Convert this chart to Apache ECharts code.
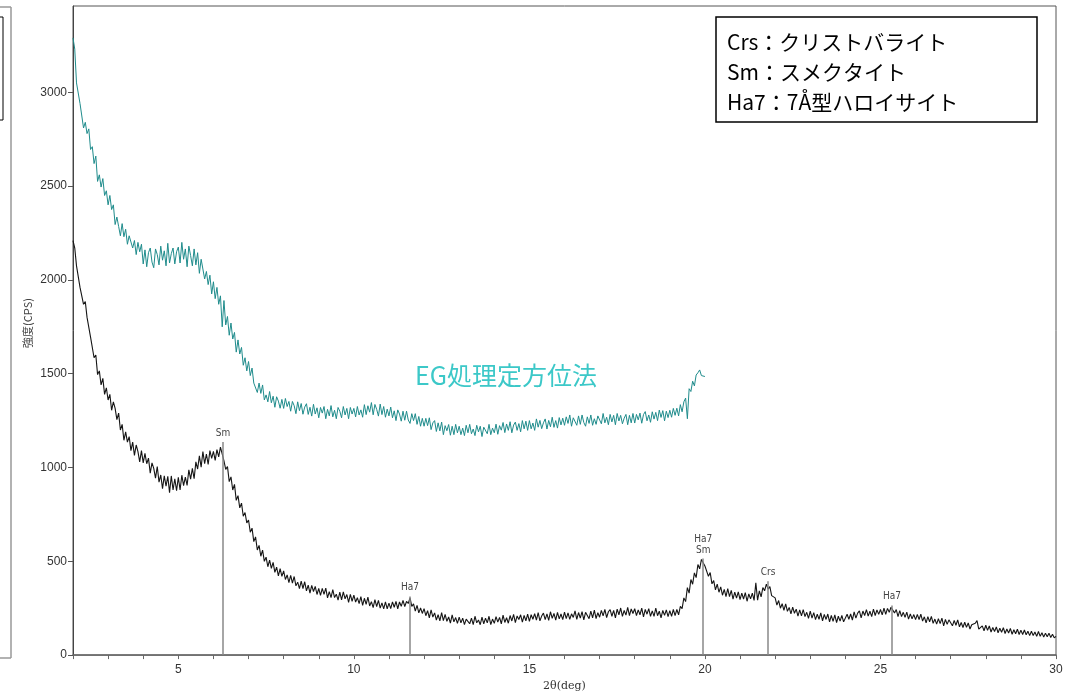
<!DOCTYPE html>
<html><head><meta charset="utf-8">
<script src="https://cdn.jsdelivr.net/npm/echarts@6/dist/echarts.min.js"></script>
<style>html,body{margin:0;padding:0;background:#fff}#c{width:1073px;height:697px}</style>
</head><body><div id="c"></div>
<script>
// 2θ sampling: start and step (deg)
const xStart = 2;
const xStep = 0.05;

// EG処理定方位法 (teal), 2.00 .. 20.00 deg
const tealY = [
3290,3230,3050,3050,2940,2935,2810,2840,2780,2805,2695,2710,2620,2660,2525,2560,2495,2540,2450,2475,
2400,2450,2375,2400,2295,2335,2285,2235,2300,2230,2270,2190,2235,2245,2170,2210,2135,2200,2150,2190,
2085,2160,2070,2145,2170,2095,2065,2165,2135,2080,2180,2105,2155,2075,2195,2090,2140,2170,2085,2150,
2175,2090,2200,2110,2165,2070,2180,2130,2075,2165,2080,2145,2035,2110,2110,2005,2045,1975,2025,1925,
1990,1900,1960,1870,1915,1750,1890,1760,1805,1705,1770,1685,1720,1615,1680,1605,1640,1545,1585,1515,
1565,1490,1530,1450,1460,1400,1450,1395,1440,1360,1387,1350,1405,1345,1380,1321,1377,1354,1316,1363,
1315,1368,1325,1352,1300,1352,1329,1287,1350,1303,1341,1284,1322,1340,1283,1321,1274,1337,1285,1318,
1265,1320,1290,1325,1260,1310,1275,1330,1270,1305,1260,1320,1300,1265,1325,1280,1315,1260,1320,1285,
1315,1270,1325,1280,1307,1268,1335,1282,1329,1295,1346,1281,1336,1310,1274,1338,1282,1325,1268,1311,
1275,1322,1265,1302,1250,1307,1285,1247,1300,1252,1300,1253,1235,1287,1250,1287,1230,1272,1220,1262,
1220,1262,1223,1265,1202,1238,1250,1192,1238,1195,1242,1175,1223,1196,1229,1172,1220,1175,1230,1185,
1220,1175,1210,1170,1225,1185,1230,1180,1205,1170,1225,1190,1220,1165,1215,1225,1180,1230,1175,1210,
1185,1231,1177,1223,1199,1240,1186,1232,1198,1244,1185,1226,1242,1198,1234,1190,1250,1206,1247,1198,
1250,1206,1237,1198,1259,1215,1251,1207,1238,1259,1205,1251,1217,1268,1214,1250,1210,1266,1227,1263,
1225,1270,1235,1280,1220,1265,1255,1225,1275,1230,1280,1240,1220,1270,1235,1280,1225,1260,1230,1275,
1273,1233,1288,1238,1268,1228,1283,1243,1278,1228,1288,1248,1278,1233,1263,1283,1228,1278,1238,1288,
1237,1283,1254,1290,1236,1282,1298,1249,1280,1241,1297,1258,1294,1250,1306,1267,1303,1249,1300,1266,
1305,1268,1315,1278,1316,1275,1335,1297,1350,1370,1260,1420,1405,1460,1435,1493,1505,1520,1490,1497,
1485
];

// untreated sample (black), 2.00 .. 30.00 deg
const blackY = [
2210,2170,2075,2080,1960,1970,1870,1885,1800,1810,1695,1700,1585,1600,1495,1515,1440,1475,1390,1425,
1360,1390,1305,1350,1315,1255,1290,1200,1230,1145,1190,1135,1165,1090,1135,1065,1120,1085,1030,1090,
1025,1075,1020,1050,970,1025,995,943,1005,922,960,887,955,900,953,866,955,880,940,876,
948,880,959,903,949,905,988,938,995,940,1030,992,1062,1002,1085,1021,1072,1016,1090,1049,
1086,1038,1095,1057,1109,1115,1035,990,1005,925,950,880,910,825,850,785,810,740,760,705,
720,655,677,605,630,560,585,527,560,500,522,471,506,462,494,441,469,422,461,420,
449,403,427,386,425,384,419,369,389,354,394,355,391,342,373,330,372,339,366,323,
355,318,356,324,357,305,338,306,349,307,325,293,336,294,337,300,323,281,324,287,
320,283,306,274,312,265,303,271,309,262,285,253,296,259,292,250,278,246,284,247,
277,248,284,255,286,247,283,260,292,259,286,275,305,260,273,235,265,225,251,222,
248,210,237,199,241,203,225,187,215,183,226,184,217,180,203,171,214,177,200,169,
202,172,197,162,192,202,167,197,162,207,172,187,162,202,167,197,172,207,162,192,
169,205,176,201,167,213,174,199,170,211,182,217,173,209,190,215,176,212,183,218,
180,215,191,221,187,227,183,208,224,189,220,185,231,196,222,187,228,193,219,189,
229,194,225,190,220,201,236,191,227,197,232,188,228,218,194,234,199,240,195,226,
202,238,209,244,200,231,242,207,238,199,245,215,251,207,238,213,254,210,246,222,
247,211,241,215,250,204,244,218,248,207,236,206,250,210,234,198,238,212,241,205,
237,207,243,210,243,215,260,248,305,285,360,330,403,378,438,413,483,460,510,510,
475,485,420,440,380,397,348,378,335,364,319,350,312,354,312,345,298,336,304,337,
296,330,299,333,287,326,300,330,292,385,293,342,310,360,343,378,352,365,317,320,
305,267,291,250,274,238,273,233,254,220,256,223,245,208,241,209,242,205,228,196,
234,197,226,189,218,191,225,183,217,190,219,177,211,180,214,173,207,181,211,177,
180,218,191,219,187,230,197,224,236,198,235,211,242,208,234,205,245,211,241,217,
243,214,250,217,249,228,255,260,225,243,205,237,205,228,201,229,192,220,193,216,
189,217,190,218,181,204,172,205,178,206,169,192,165,194,168,197,156,190,164,188,
182,156,185,159,188,151,174,147,175,148,171,139,162,161,170,184,138,132,156,130,
159,132,155,123,147,126,150,119,143,122,146,115,139,118,142,111,135,114,138,110,
133,110,134,108,127,104,127,104,123,100,126,100,119,96,117,98,117,94,111,92,
100
];

// peak identification markers
const peakPos = [6.27, 11.6, 19.95, 21.8, 25.33];
const peakTop = [1136, 313, 515, 393, 265];
const peakLabels = ['Sm', 'Ha7', 'Ha7\nSm', 'Crs', 'Ha7'];

// axis ticks / labels
const yTickValues = [0, 500, 1000, 1500, 2000, 2500, 3000];
const xLabelValues = [5, 10, 15, 20, 25, 30];
const yAxisTitle = '強度(CPS)';
const xAxisTitle = '2θ(deg)';

// legend text
const legendLines = ['Crs：クリストバライト', 'Sm：スメクタイト', 'Ha7：7Å型ハロイサイト'];
const curveLabel = 'EG処理定方位法';

function toPairs(arr) {
  return arr.map((v, i) => [+(xStart + i * xStep).toFixed(2), v]);
}

const chart = echarts.init(document.getElementById('c'), null, {renderer: 'canvas'});

const markData = peakPos.map((p, i) => [
  {coord: [p, 0]},
  {coord: [p, peakTop[i]], name: peakLabels[i]}
]);

const jp = '"Noto Sans CJK JP", "Noto Sans", sans-serif';

chart.setOption({
  animation: false,
  backgroundColor: '#fff',
  grid: {left: 73, right: 17, top: 6, bottom: 40, show: true, borderColor: '#555', borderWidth: 1, backgroundColor: 'transparent'},
  xAxis: {
    type: 'value', min: 2, max: 30, interval: 1,
    name: xAxisTitle, nameLocation: 'middle', nameGap: 25,
    nameTextStyle: {fontSize: 11, color: '#333', fontFamily: '"DejaVu Serif", serif'},
    axisLine: {show: true, lineStyle: {color: '#666', width: 1.5}},
    axisTick: {show: true, inside: false, length: 4, lineStyle: {color: '#666'}},
    axisLabel: {
      margin: 9, fontSize: 12, color: '#333', fontFamily: '"Liberation Sans", Arial, sans-serif',
      formatter: v => (xLabelValues.indexOf(v) >= 0 ? String(v) : '')
    },
    splitLine: {show: false}
  },
  yAxis: {
    type: 'value', min: 0, max: 3460, interval: 500,
    axisLine: {show: true, lineStyle: {color: '#444', width: 1}},
    axisTick: {show: true, length: 5, lineStyle: {color: '#555'}, customValues: yTickValues},
    axisLabel: {
      margin: 6, fontSize: 12, color: '#333', fontFamily: '"Liberation Sans", Arial, sans-serif',
      customValues: yTickValues,
      formatter: v => String(v)
    },
    splitLine: {show: false}
  },
  series: [
    {
      type: 'line', data: toPairs(tealY), showSymbol: false, symbol: 'none',
      lineStyle: {color: '#1f8c8c', width: 1}, itemStyle: {color: '#1f8c8c'}
    },
    {
      type: 'line', data: toPairs(blackY), showSymbol: false, symbol: 'none',
      lineStyle: {color: '#151515', width: 1.1}, itemStyle: {color: '#151515'}
    },
    {
      type: 'line', data: [], silent: true,
      markLine: {
        silent: true, symbol: ['none', 'none'], animation: false,
        lineStyle: {color: '#888', width: 1.5, type: 'solid'},
        label: {show: true, position: 'end', distance: 3, formatter: p => p.name,
          fontSize: 10, lineHeight: 11, color: '#444', fontFamily: '"DejaVu Sans Condensed", "Liberation Sans Narrow", sans-serif'},
        emphasis: {disabled: true},
        data: markData
      }
    }
  ],
  graphic: [
    // neighbouring panel fragment at the far left
    {type: 'line', shape: {x1: 11, y1: 7, x2: 11, y2: 658}, style: {stroke: '#999', lineWidth: 1.5}},
    {type: 'line', shape: {x1: 0, y1: 7, x2: 11, y2: 7}, style: {stroke: '#999', lineWidth: 1.5}},
    {type: 'line', shape: {x1: 0, y1: 658, x2: 11, y2: 658}, style: {stroke: '#999', lineWidth: 1.5}},
    {type: 'rect', shape: {x: -3, y: 17, width: 6, height: 103}, style: {fill: 'none', stroke: '#000', lineWidth: 1}},
    // y axis title
    {type: 'text', x: 28, y: 323, rotation: Math.PI / 2, style: {text: yAxisTitle, fill: '#444', font: '11px ' + jp, align: 'center', verticalAlign: 'middle'}},
    // legend box
    {type: 'rect', shape: {x: 716, y: 17, width: 321, height: 105}, style: {fill: '#fff', stroke: '#000', lineWidth: 1.5}, z: 10},
    {type: 'text', x: 727, y: 42, z: 11, style: {text: legendLines[0], fill: '#000', font: '21px ' + jp, verticalAlign: 'middle'}},
    {type: 'text', x: 727, y: 72, z: 11, style: {text: legendLines[1], fill: '#000', font: '21px ' + jp, verticalAlign: 'middle'}},
    {type: 'text', x: 727, y: 102, z: 11, style: {text: legendLines[2], fill: '#000', font: '21px ' + jp, verticalAlign: 'middle'}},
    // curve label
    {type: 'text', x: 415, y: 375, z: 11, style: {text: curveLabel, fill: '#3cc8c8', font: '25px ' + jp, verticalAlign: 'middle'}}
  ]
});
</script>
</body></html>
